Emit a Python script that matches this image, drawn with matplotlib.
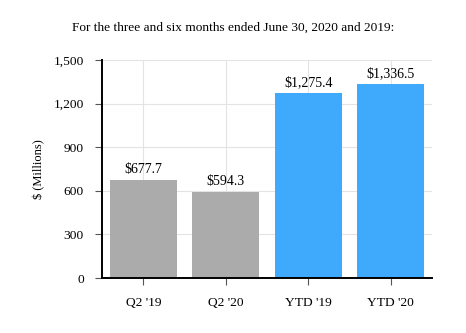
import numpy as np
import matplotlib.pyplot as plt

plt.rcParams["font.family"] = ["Liberation Serif", "DejaVu Serif"]

categories = ["Q2 '19", "Q2 '20", "YTD '19", "YTD '20"]
values = [677.7, 594.3, 1275.4, 1336.5]
colors = ["#ababab", "#ababab", "#3fa9fc", "#3fa9fc"]
y_ticks = [0, 300, 600, 900, 1200, 1500]


def main():
    fig = plt.figure(figsize=(4.66, 3.33), dpi=100)
    ax = fig.add_axes([0.219, 0.165, 0.708, 0.655])

    x = np.arange(len(categories))
    ax.bar(x, values, width=0.81, color=colors, zorder=2)

    for xi, v in zip(x, values):
        ax.text(xi, v + 25, f"${v:,.1f}", ha="center", va="bottom",
                fontsize=10, zorder=3)

    ax.set_xlim(-0.5, 3.5)
    ax.set_ylim(0, 1500)
    ax.set_yticks(y_ticks)
    ax.set_yticklabels([f"{t:,}" for t in y_ticks])
    ax.set_xticks(x)
    ax.set_xticklabels(categories)
    ax.tick_params(axis="both", labelsize=9.7, length=5, width=0.8,
                   color="#555555")
    ax.tick_params(axis="x", pad=9)
    ax.tick_params(axis="y", pad=8)

    ax.grid(True, color="#e3e3e3", linewidth=0.8, zorder=0)
    ax.set_axisbelow(True)

    for side in ["top", "right"]:
        ax.spines[side].set_visible(False)
    ax.spines["left"].set_linewidth(1.4)
    ax.spines["bottom"].set_linewidth(1.4)

    ax.set_ylabel("$ (Millions)", fontsize=9, labelpad=6)
    fig.text(0.5, 0.916, "For the three and six months ended June 30, 2020 and 2019:",
             ha="center", va="center", fontsize=9.6)

    fig.savefig("out.png", dpi=100)
    plt.close(fig)


if __name__ == "__main__":
    main()
